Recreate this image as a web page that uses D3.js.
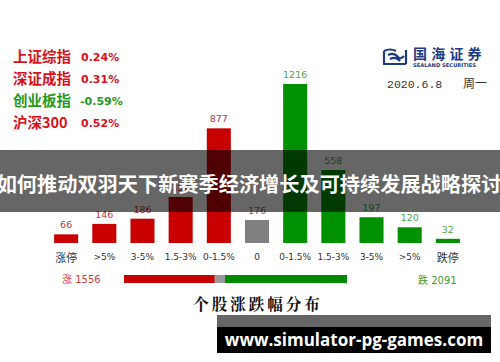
<!DOCTYPE html>
<html>
<head>
<meta charset="utf-8">
<script src="https://cdn.jsdelivr.net/npm/d3@7"></script>
<style>
body { margin: 0; background: #fff; }
svg { display: block; }
</style>
</head>
<body>
<div id="chart"></div>
<script>
// market indices (top left)
var indexNames = ["上证综指", "深证成指", "创业板指", "沪深300"];
var indexChanges = ["0.24%", "0.31%", "-0.59%", "0.52%"];

// distribution of stock moves
var categories = ["涨停", ">5%", "3-5%", "1.5-3%", "0-1.5%", "0", "0-1.5%", "1.5-3%", "3-5%", ">5%", "跌停"];
var counts = [66, 146, 186, 352, 877, 176, 1216, 558, 197, 120, 32];
var sides = ["up", "up", "up", "up", "up", "flat", "down", "down", "down", "down", "down"];

// totals for the summary strip
var totalLabels = ["涨", "平", "跌"];
var totals = [1556, 176, 2091];

var dateText = "2020.6.8";
var weekday = "周一";
var title = "个股涨跌幅分布";
var banner = "如何推动双羽天下新赛季经济增长及可持续发展战略探讨";
var site = "www.simulator-pg-games.com";

var w = 500, h = 362;
var svg = d3.select('#chart').append('svg')
	.attr('width', w)
	.attr('height', h);

var cjk = '"Noto Sans CJK SC", "Noto Sans", sans-serif';
var sans = '"DejaVu Sans", Verdana, sans-serif';

var barColor = d3.scaleOrdinal().domain(["up", "flat", "down"]).range(["#c80000", "#808080", "#009000"]);
var textColor = d3.scaleOrdinal().domain(["up", "flat", "down"]).range(["#b23a48", "#6e6e6e", "#4ea64e"]);

// ---- index table
var idxColor = function(v){ return v.charAt(0) == '-' ? '#1f9a1f' : '#d8101c'; };
var rowY = d3.scalePoint().domain(d3.range(indexNames.length)).range([62, 128]);
var rows = svg.append('g').selectAll('g')
	.data(indexNames)
	.enter().append('g')
	.attr('transform', function(d, i){ return 'translate(0,' + rowY(i) + ')'; });
rows.append('text')
	.attr('x', 13)
	.attr('font-family', cjk)
	.attr('font-weight', 'bold')
	.attr('font-size', 14.5)
	.attr('fill', function(d, i){ return idxColor(indexChanges[i]); })
	.text(function(d){ return d; });
rows.append('text')
	.attr('x', function(d, i){ return indexChanges[i].charAt(0) == '-' ? 80 : 81; })
	.attr('y', -1)
	.attr('font-family', sans)
	.attr('font-weight', 'bold')
	.attr('font-size', 11)
	.attr('fill', function(d, i){ return idxColor(indexChanges[i]); })
	.text(function(d, i){ return indexChanges[i]; });

// ---- logo + date
var logo = svg.append('g').attr('transform', 'translate(384,48)');
var navy = '#1d3a82';
logo.append('path')
	.attr('d', 'M0,3 Q6,0 12,3 M0,3 L0,16 L22,16 M4,7 Q10,4 14,9 Q16,12 20,8 M6,11 Q12,8 16,13 M22,2 L22,16')
	.attr('fill', 'none').attr('stroke', navy).attr('stroke-width', 2.2);
logo.append('text')
	.attr('x', 29).attr('y', 11)
	.attr('font-family', cjk).attr('font-weight', 'bold')
	.attr('font-size', 14).attr('letter-spacing', 4.2)
	.attr('fill', navy)
	.text('国海证券');
logo.append('text')
	.attr('x', 29).attr('y', 19)
	.attr('font-family', sans).attr('font-weight', 'bold')
	.attr('font-size', 5.2).attr('fill', navy)
	.text('SEALAND SECURITIES');

svg.append('text')
	.attr('x', 387).attr('y', 88)
	.attr('font-family', '"Liberation Mono", monospace')
	.attr('font-size', 11.5).attr('fill', '#333')
	.text(dateText);
svg.append('text')
	.attr('x', 463).attr('y', 88)
	.attr('font-family', cjk)
	.attr('font-size', 12).attr('fill', '#333')
	.text(weekday);

// ---- bars
var x = d3.scaleBand()
	.domain(d3.range(categories.length))
	.range([40, 474])
	.padding(0.37);
var y = d3.scaleLinear()
	.domain([0, 1216])
	.range([243, 84]);

svg.append('g').selectAll('rect')
	.data(counts)
	.enter().append('rect')
	.attr('x', function(d, i){ return x(i); })
	.attr('y', function(d){ return y(d); })
	.attr('width', x.bandwidth())
	.attr('height', function(d){ return y(0) - y(d); })
	.attr('fill', function(d, i){ return barColor(sides[i]); });

svg.append('g').selectAll('text')
	.data(counts)
	.enter().append('text')
	.attr('x', function(d, i){ return x(i) + x.bandwidth() / 2; })
	.attr('y', function(d){ return y(d) - 6; })
	.attr('text-anchor', 'middle')
	.attr('font-family', sans)
	.attr('font-size', 9.5)
	.attr('fill', function(d, i){ return textColor(sides[i]); })
	.text(function(d){ return d; });

var xAxis = svg.append('g')
	.attr('transform', 'translate(0,' + y(0) + ')')
	.call(d3.axisBottom(x).tickSize(0).tickPadding(11).tickFormat(function(i){ return categories[i]; }));
xAxis.select('.domain').remove();
xAxis.selectAll('text')
	.attr('fill', '#333')
	.attr('font-family', function(i){ return /[\u4e00-\u9fff]/.test(categories[i]) ? cjk : sans; })
	.attr('font-size', function(i){ return /[\u4e00-\u9fff]/.test(categories[i]) ? 11 : 9; });

// ---- summary strip
var total = d3.sum(totals);
var sx = d3.scaleLinear().domain([0, total]).range([124, 347]);
var cum = [0];
totals.forEach(function(v, i){ cum.push(cum[i] + v); });
svg.append('g').selectAll('rect')
	.data(totals)
	.enter().append('rect')
	.attr('x', function(d, i){ return sx(cum[i]); })
	.attr('y', 275)
	.attr('width', function(d){ return sx(d) - sx(0); })
	.attr('height', 8)
	.attr('fill', function(d, i){ return ['#c80000', '#999', '#008a00'][i]; });

svg.append('text')
	.attr('x', 62).attr('y', 283)
	.attr('font-family', sans).attr('font-size', 10)
	.attr('fill', '#d23a3a')
	.html('<tspan font-family=\'' + cjk + '\'>' + totalLabels[0] + '</tspan> ' + totals[0]);
svg.append('text')
	.attr('x', 418).attr('y', 284)
	.attr('font-family', sans).attr('font-size', 10)
	.attr('fill', '#3a9a3a')
	.html('<tspan font-family=\'' + cjk + '\'>' + totalLabels[2] + '</tspan> ' + totals[2]);

svg.append('text')
	.attr('x', 258).attr('y', 310)
	.attr('text-anchor', 'middle')
	.attr('font-family', '"Noto Serif CJK SC", "Noto Sans CJK SC", serif')
	.attr('font-weight', 'bold')
	.attr('font-size', 15.5)
	.attr('letter-spacing', 3)
	.attr('fill', '#111')
	.text(title);

// ---- banner overlay
svg.append('rect')
	.attr('x', 0).attr('y', 150)
	.attr('width', w).attr('height', 62)
	.attr('fill', '#000').attr('fill-opacity', 0.6);
svg.append('text')
	.attr('x', 249).attr('y', 192)
	.attr('text-anchor', 'middle')
	.attr('font-family', cjk)
	.attr('font-weight', 'bold')
	.attr('font-size', 20.2)
	.attr('fill', '#fff')
	.text(banner);

// ---- site watermark
svg.append('rect')
	.attr('x', 217).attr('y', 315)
	.attr('width', 274).attr('height', 12)
	.attr('fill', '#666');
svg.append('rect')
	.attr('x', 217).attr('y', 327)
	.attr('width', 274).attr('height', 26)
	.attr('fill', '#000');
svg.append('text')
	.attr('x', 354).attr('y', 346)
	.attr('text-anchor', 'middle')
	.attr('font-family', '"Open Sans", "DejaVu Sans", sans-serif')
	.attr('font-weight', 'bold')
	.attr('font-size', 17)
	.attr('fill', '#fff')
	.text(site);
</script>
</body>
</html>
